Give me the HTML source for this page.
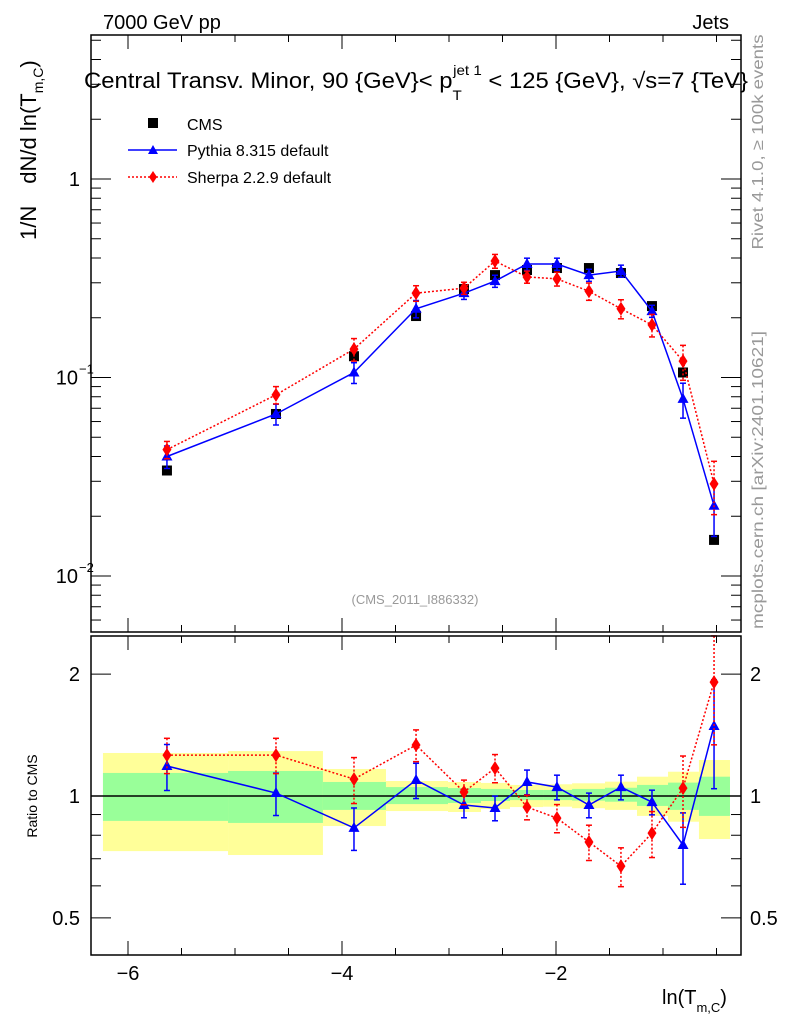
<!DOCTYPE html>
<html><head><meta charset="utf-8"><style>
body{margin:0;background:#fff;}
svg{display:block;font-family:"Liberation Sans",Arial,sans-serif;}
</style></head><body>
<svg id="chart" width="786" height="1024" xmlns="http://www.w3.org/2000/svg">
<g id="bands"></g>
<g id="marks"></g>
<g id="axes"></g>
<text x="103" y="29" font-size="20">7000 GeV pp</text>
<text x="729" y="29" font-size="20" text-anchor="end">Jets</text>
<text x="84" y="88" font-size="22" textLength="664" lengthAdjust="spacingAndGlyphs">Central Transv. Minor, 90 {GeV}&lt; p<tspan font-size="14" dy="12">T</tspan><tspan font-size="14" dx="-8" dy="-25">jet 1</tspan><tspan dy="13"> &lt; 125 {GeV}, √s=7 {TeV}</tspan></text>
<text x="415" y="604" font-size="13" fill="#999" text-anchor="middle">(CMS_2011_I886332)</text>
<text transform="translate(763,142) rotate(-90)" font-size="16" fill="#999" text-anchor="middle" textLength="215" lengthAdjust="spacingAndGlyphs">Rivet 4.1.0, ≥ 100k events</text>
<text transform="translate(763,480) rotate(-90)" font-size="16" fill="#999" text-anchor="middle" textLength="298" lengthAdjust="spacingAndGlyphs">mcplots.cern.ch [arXiv:2401.10621]</text>
<text transform="translate(36,240) rotate(-90)" font-size="22">1/N<tspan dx="22">dN/d ln(T</tspan><tspan font-size="14" dy="7">m,C</tspan><tspan dy="-7">)</tspan></text>
<text transform="translate(37,796) rotate(-90)" font-size="14" text-anchor="middle">Ratio to CMS</text>
<text x="662" y="1004" font-size="20">ln(T<tspan font-size="13" dy="8">m,C</tspan><tspan dy="-8">)</tspan></text>
<g>
<rect x="148" y="118" width="10" height="10" fill="#000"/>
<text x="187" y="130" font-size="16">CMS</text>
<line x1="128" y1="150" x2="177" y2="150" stroke="#00f" stroke-width="1.5"/>
<polygon points="153,145 158,154 148,154" fill="#00f"/>
<text x="187" y="156" font-size="16">Pythia 8.315 default</text>
<line x1="128" y1="177" x2="177" y2="177" stroke="#f00" stroke-width="1.5" stroke-dasharray="2,2"/>
<polygon points="153,171 157,177 153,183 149,177" fill="#f00"/>
<text x="187" y="183" font-size="16">Sherpa 2.2.9 default</text>
</g>
</svg>
<script>
const xs=[-5.636,-4.617,-3.888,-3.308,-2.86,-2.57,-2.271,-1.991,-1.692,-1.393,-1.103,-0.813,-0.523];
const binEdges=[-6.234,-5.065,-4.178,-3.589,-3.009,-2.701,-2.43,-2.121,-1.85,-1.542,-1.243,-0.953,-0.664,-0.374];
const cmsVals=[0.034,0.0655,0.128,0.204,0.279,0.328,0.348,0.356,0.356,0.336,0.229,0.106,0.0152];
const pythiaVals=[0.040,0.0655,0.106,0.222,0.266,0.306,0.373,0.373,0.328,0.344,0.216,0.078,0.0226];
const sherpaVals=[0.0433,0.0818,0.139,0.266,0.282,0.386,0.321,0.314,0.272,0.222,0.184,0.121,0.0291];
const pythiaRatio=[1.186,1.017,0.834,1.095,0.950,0.934,1.083,1.052,0.950,1.052,0.966,0.757,1.489];
const sherpaRatio=[1.262,1.262,1.101,1.336,1.023,1.172,0.939,0.882,0.770,0.671,0.810,1.046,1.911];
const pythiaErr=[0.13,0.12,0.12,0.1,0.07,0.07,0.07,0.07,0.07,0.07,0.07,0.2,0.3];
const sherpaErr=[0.1,0.1,0.13,0.09,0.07,0.08,0.07,0.08,0.1,0.11,0.13,0.2,0.3];
const yellowHi=[1.277,1.291,1.166,1.089,1.083,1.077,1.065,1.069,1.075,1.085,1.116,1.148,1.227];
const yellowLo=[0.731,0.715,0.843,0.918,0.913,0.929,0.939,0.941,0.933,0.924,0.893,0.864,0.783];
const greenHi=[1.14,1.153,1.083,1.052,1.046,1.041,1.035,1.035,1.041,1.048,1.065,1.079,1.116];
const greenLo=[0.868,0.858,0.924,0.955,0.961,0.972,0.977,0.977,0.974,0.968,0.945,0.924,0.893];
const xTicks=[-6,-4,-2];
const xTickLabels=["−6","−4","−2"];

const NS="http://www.w3.org/2000/svg";
const L=91,R=741,T1=35,B1=632,T2=636,B2=955;
const X=v=>342+(v+4)*107;
const Y=v=>179-Math.log10(v)*198.5;
const YR=v=>796-Math.log10(v)*405;
function mk(p,tag,a){const e=document.createElementNS(NS,tag);for(const k in a)e.setAttribute(k,a[k]);p.appendChild(e);return e;}
const bands=document.getElementById('bands'),marks=document.getElementById('marks'),axes=document.getElementById('axes');
for(let i=0;i<xs.length;i++){
 const x0=X(binEdges[i]),x1=X(binEdges[i+1]);
 const y=mk(bands,'rect',{x:x0,y:YR(yellowHi[i]),width:x1-x0,height:YR(yellowLo[i])-YR(yellowHi[i]),fill:'#ffff99'});
 
 
 const g=mk(bands,'rect',{x:x0,y:YR(greenHi[i]),width:x1-x0,height:YR(greenLo[i])-YR(greenHi[i]),fill:'#99ff99'});
 
 
}
mk(marks,'line',{x1:L,x2:R,y1:YR(1),y2:YR(1),stroke:'#000','stroke-width':1.5});
function tri(x,y,c){return mk(marks,'polygon',{points:`${x},${y-6} ${x+5.5},${y+4} ${x-5.5},${y+4}`,fill:c});}
function dia(x,y,c){return mk(marks,'polygon',{points:`${x},${y-7} ${x+4.5},${y} ${x},${y+7} ${x-4.5},${y}`,fill:c});}
function series(vals,err,yf,color,dash,shape,name){
 const pts=vals.map((v,i)=>X(xs[i])+','+yf(v)).join(' ');
 const pl=mk(marks,'polyline',{points:pts,fill:'none',stroke:color,'stroke-width':1.5,'stroke-dasharray':dash});
 
 
 vals.forEach((v,i)=>{
  const x=X(xs[i]);
  const a=yf(v*(1+err[i])),b=yf(v*(1-err[i]));
  mk(marks,'line',{x1:x,x2:x,y1:a,y2:b,stroke:color,'stroke-width':1.5,'stroke-dasharray':dash});
  mk(marks,'line',{x1:x-3,x2:x+3,y1:a,y2:a,stroke:color,'stroke-width':1.5});
  mk(marks,'line',{x1:x-3,x2:x+3,y1:b,y2:b,stroke:color,'stroke-width':1.5});
  const m=shape(x,yf(v),color);
  
  
 });
}
cmsVals.forEach((v,i)=>{
 const r=mk(marks,'rect',{x:X(xs[i])-5,y:Y(v)-5,width:10,height:10,fill:'#000'});
 
 
});
series(pythiaVals,pythiaErr,Y,'#00f','none',tri,'pythia');
series(sherpaVals,sherpaErr,Y,'#f00','2,2',dia,'sherpa');
series(pythiaRatio,pythiaErr,YR,'#00f','none',tri,'pythia-ratio');
series(sherpaRatio,sherpaErr,YR,'#f00','2,2',dia,'sherpa-ratio');
[[T1,B1],[T2,B2]].forEach(([t,b])=>mk(axes,'rect',{x:L,y:t,width:R-L,height:b-t,fill:'none',stroke:'#000','stroke-width':1.5}));
for(let v=-6.5;v<=-0.3;v+=0.5){
 const x=X(v);if(x<L||x>R)continue;
 const maj=Math.abs(v-Math.round(v))<1e-6&&Math.round(v)%2===0;
 const len=maj?14:7;
 [[T1,1],[B1,-1],[T2,1],[B2,-1]].forEach(([y,d])=>mk(axes,'line',{x1:x,x2:x,y1:y,y2:y+d*len,stroke:'#000'}));
}
xTicks.forEach((v,i)=>{const t=mk(axes,'text',{x:X(v),y:980,'font-size':20,'text-anchor':'middle'});t.textContent=xTickLabels[i];
 
 });
for(let d=-3;d<=0;d++)for(let k=1;k<10;k++){
 const v=k*Math.pow(10,d);const y=Y(v);if(y<T1||y>B1)continue;
 const len=k===1?20:10;
 mk(axes,'line',{x1:L,x2:L+len,y1:y,y2:y,stroke:'#000'});
 mk(axes,'line',{x1:R,x2:R-len,y1:y,y2:y,stroke:'#000'});
}
[[1,'1'],[0.1,'10'],[0.01,'10']].forEach(([v,s],i)=>{
 const t=mk(axes,'text',{x:i===0?80:78,y:Y(v)+7,'font-size':20,'text-anchor':'end'});
 t.textContent=s;
 
 
 if(i>0){const e=mk(axes,'text',{x:79,y:Y(v)-4,'font-size':13});e.textContent=i===1?'−1':'−2';}
});
[0.5,0.6,0.7,0.8,0.9,1,2].forEach(v=>{const y=YR(v);const len=(v===0.5||v===1||v===2)?20:10;
 mk(axes,'line',{x1:L,x2:L+len,y1:y,y2:y,stroke:'#000'});mk(axes,'line',{x1:R,x2:R-len,y1:y,y2:y,stroke:'#000'});});
[[2,'2'],[1,'1'],[0.5,'0.5']].forEach(([v,s])=>{
 const a=mk(axes,'text',{x:80,y:YR(v)+7,'font-size':20,'text-anchor':'end'});a.textContent=s;
 
 
 const b=mk(axes,'text',{x:750,y:YR(v)+7,'font-size':20});b.textContent=s;
 
 
});
</script>
</body></html>
